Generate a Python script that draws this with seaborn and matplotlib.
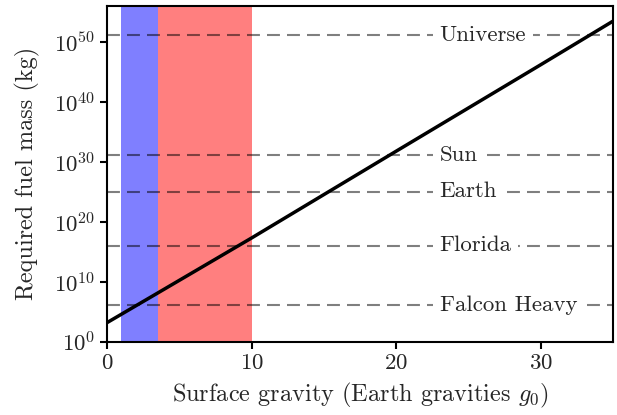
import matplotlib
matplotlib.use("Agg")
import matplotlib.pyplot as plt
import numpy as np
import pandas as pd
import seaborn as sns
from matplotlib.ticker import FixedLocator, LogFormatterMathtext, NullLocator

# Required fuel mass vs surface gravity
gravity = [0, 3.5, 10, 20, 30, 35]
fuel_mass = [1.5e3, 1.3e8, 2e17, 6e31, 1.6e46, 3e53]

# Reference masses drawn as dashed lines
ref_names = ["Universe", "Sun", "Earth", "Florida", "Falcon Heavy"]
ref_masses = [1.3e51, 1.3e31, 1.1e25, 1.1e16, 1.1e6]

# Shaded gravity bands
blue_band = (1.0, 3.5)
red_band = (3.5, 10.0)

y_ticks = [1e0, 1e10, 1e20, 1e30, 1e40, 1e50]
x_ticks = [0, 10, 20, 30]

sns.set_style("ticks")
plt.rcParams["font.family"] = ["cmr10", "DejaVu Serif"]
plt.rcParams["mathtext.fontset"] = "cm"
plt.rcParams["axes.formatter.use_mathtext"] = True
plt.rcParams["axes.unicode_minus"] = False

fig = plt.figure(figsize=(6.17, 4.15), dpi=100)
ax = fig.add_axes([0.1734, 0.1766, 0.8201, 0.8089])

ax.axvspan(*blue_band, color="blue", alpha=0.5, lw=0, zorder=0)
ax.axvspan(*red_band, color="red", alpha=0.5, lw=0, zorder=0)

for name, mass in zip(ref_names, ref_masses):
    ax.axhline(mass, color="black", alpha=0.5, lw=1.5, ls=(0, (6.2, 3.4)), zorder=1)
    ax.text(23.0, mass, name, fontsize=16.5, va="center", ha="left", zorder=2,
            bbox=dict(facecolor="white", edgecolor="none", boxstyle="square,pad=0.3"))

df = pd.DataFrame({"g": gravity, "m": fuel_mass})
sns.lineplot(data=df, x="g", y="m", ax=ax, color="black", lw=2.5, zorder=3)

ax.set_yscale("log")
ax.set_xlim(0, 35)
ax.set_ylim(1, 1e56)
ax.yaxis.set_major_locator(FixedLocator(y_ticks))
ax.yaxis.set_major_formatter(LogFormatterMathtext())
ax.yaxis.set_minor_locator(NullLocator())
ax.set_xticks(x_ticks)

for side in ax.spines.values():
    side.set_linewidth(1.5)
    side.set_color("black")
ax.tick_params(axis="both", labelsize=16.5, width=1.5, length=5, color="black")
ax.set_xlabel("Surface gravity (Earth gravities $g_0$)", fontsize=17.5, labelpad=6)
ax.set_ylabel("Required fuel mass (kg)", fontsize=17.5, labelpad=10)

fig.savefig("out.png", dpi=100)
